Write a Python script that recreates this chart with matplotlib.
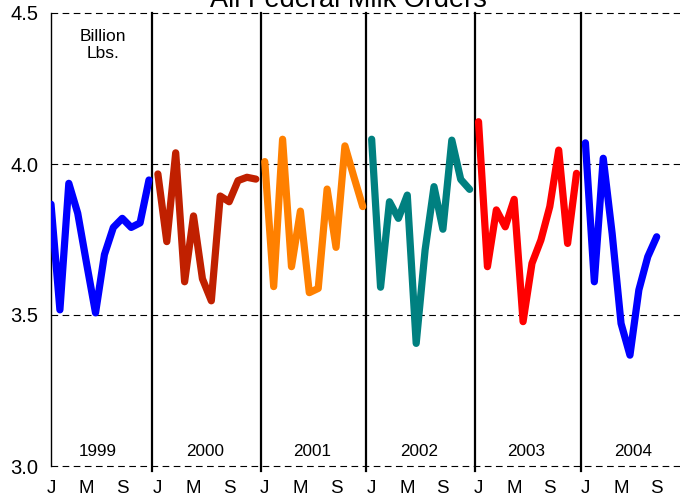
import matplotlib
matplotlib.use("Agg")
import matplotlib.pyplot as plt
import numpy as np

plt.rcParams['font.family'] = ['Liberation Sans', 'DejaVu Sans']

years = ["1999", "2000", "2001", "2002", "2003", "2004"]
month_labels = ["J", "M", "S"]
v1999 = [3.867, 3.517, 3.936, 3.837, 3.67, 3.507, 3.70, 3.79, 3.82, 3.79, 3.805, 3.947]
v2000 = [3.967, 3.743, 4.037, 3.61, 3.828, 3.62, 3.547, 3.894, 3.875, 3.945, 3.956, 3.950]
v2001 = [4.008, 3.594, 4.082, 3.66, 3.844, 3.574, 3.588, 3.917, 3.724, 4.06, 3.958, 3.859]
v2002 = [4.082, 3.592, 3.875, 3.82, 3.897, 3.406, 3.715, 3.925, 3.784, 4.079, 3.949, 3.916]
v2003 = [4.14, 3.66, 3.848, 3.792, 3.883, 3.478, 3.671, 3.748, 3.859, 4.046, 3.737, 3.969]
v2004 = [4.07, 3.61, 4.019, 3.77, 3.472, 3.367, 3.583, 3.693, 3.759]
series = [v1999, v2000, v2001, v2002, v2003, v2004]
colors = ["#0000FF", "#C02000", "#FF8000", "#008080", "#FF0000", "#0000FF"]

fig = plt.figure(figsize=(6.8, 5.0), dpi=100)
W, H = 680, 500
px_per_month = 8.907
x0, ytop, ybot = 51, 13, 466
nmonths = 72
ax = fig.add_axes([x0 / W, 1 - ybot / H, nmonths * px_per_month / W, (ybot - ytop) / H])
ax.set_xlim(0, nmonths)
ax.set_ylim(3.0, 4.5)

for i, (vals, c) in enumerate(zip(series, colors)):
    xs = np.arange(len(vals)) + 12 * i
    ax.plot(xs, vals, color=c, lw=5.2, solid_capstyle='round', solid_joinstyle='round', zorder=3)

# gridlines
for yv in [3.0, 3.5, 4.0, 4.5]:
    ax.axhline(yv, color='black', lw=0.8, ls=(0, (6, 4)), zorder=1, clip_on=False)

# year separators
seps = [11.3, 23.58, 35.33, 47.57, 59.48]
for s in seps:
    ax.plot([s, s], [2.985, 4.5], color='black', lw=1.6, zorder=2, clip_on=False)

for sp in ['top', 'right', 'bottom']:
    ax.spines[sp].set_visible(False)
ax.spines['left'].set_linewidth(1.0)
ax.spines['left'].set_zorder(2)

ax.set_yticks([3.0, 3.5, 4.0, 4.5])
ax.set_yticklabels(["3.0", "3.5", "4.0", "4.5"], fontsize=14.5)
ax.tick_params(axis='y', length=0, pad=9)

mticks = [m + 12 * i for i in range(6) for m in (0, 4, 8)]
ax.set_xticks(mticks)
ax.set_xticklabels(month_labels * 6, fontsize=13.5)
ax.tick_params(axis='x', length=0, pad=10)

for i, y in enumerate(years):
    ax.text(5.3 + 12 * i, 3.047, y, ha='center', va='center', fontsize=12.3)

ax.text((103 - x0) / px_per_month, 4.0 - (45 - 164) / 302, "Billion\nLbs.", ha='center', va='center',
        fontsize=12.5, linespacing=1.2)

fig.text(348.5 / W, 1 - 7 / H, "All Federal Milk Orders", ha='center', va='baseline', fontsize=19.5)

fig.savefig("out.png", dpi=100)
